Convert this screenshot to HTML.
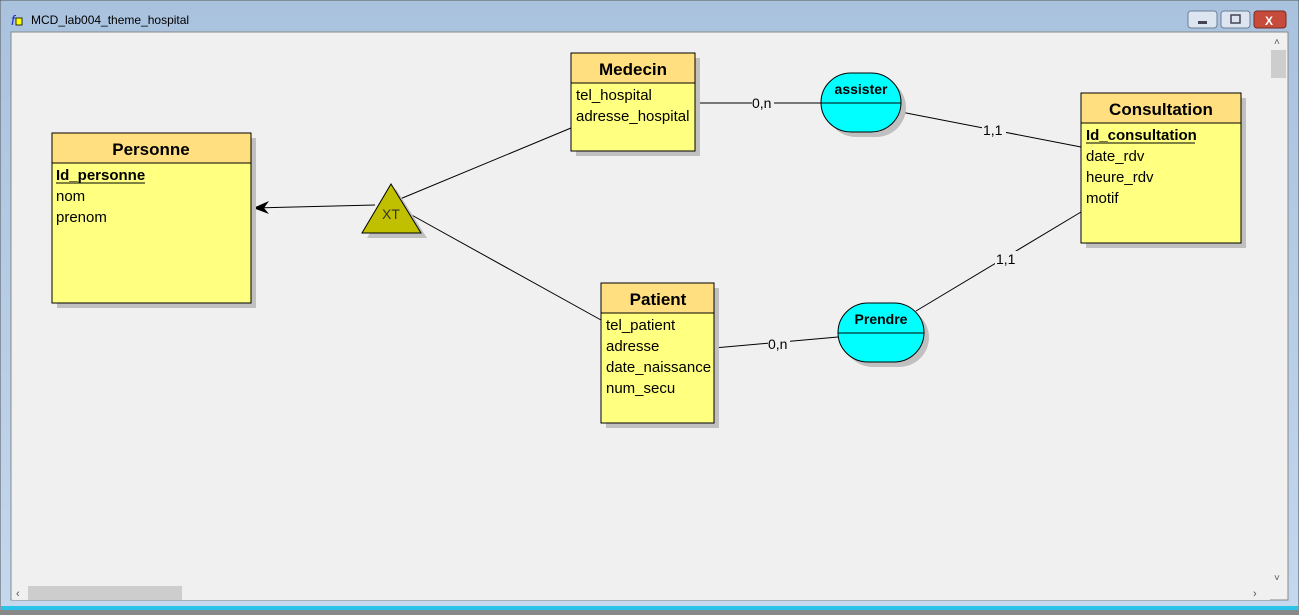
<!DOCTYPE html>
<html><head><style>
body{margin:0;width:1299px;height:615px;overflow:hidden;background:#b9d1ea;font-family:"Liberation Sans",sans-serif}
</style></head><body>
<svg width="1299" height="615" xmlns="http://www.w3.org/2000/svg" style="position:absolute;left:0;top:0">
<defs>
<linearGradient id="tb" x1="0" y1="0" x2="0" y2="1"><stop offset="0" stop-color="#a9c2de"/><stop offset="1" stop-color="#c4d8ee"/></linearGradient>
</defs>
<rect x="0" y="0" width="1299" height="615" fill="url(#tb)" stroke="#555" />
<rect x="0" y="610" width="1299" height="5" fill="#888"/>
<rect x="1" y="606" width="1297" height="4" fill="#2bc4e8"/>
<text x="31" y="24" font-size="12" fill="#000">MCD_lab004_theme_hospital</text>
<text x="11" y="25" font-size="14" fill="#2030c0" font-style="italic">f</text><rect x="16" y="18" width="6" height="7" fill="#ff0" stroke="#000" stroke-width="0.8"/>
<rect x="1188" y="11" width="29" height="17" rx="3" fill="#dde6f0" stroke="#6b7f99"/>
<rect x="1221" y="11" width="29" height="17" rx="3" fill="#dde6f0" stroke="#6b7f99"/>
<rect x="1254" y="11" width="32" height="17" rx="3" fill="#c74b3a" stroke="#7a2a20"/>
<rect x="1198" y="21" width="9" height="3" fill="#445"/>
<rect x="1231" y="15" width="9" height="8" fill="none" stroke="#445" stroke-width="1.5"/>
<text x="1265" y="25" font-size="12" font-weight="bold" fill="#fff">X</text>
<rect x="11" y="32" width="1277" height="568" fill="#f0f0f0" stroke="#888"/>
<rect x="1270" y="33" width="17" height="552" fill="#f0f0f0"/>
<rect x="1271" y="50" width="15" height="28" fill="#cdcdcd"/>
<rect x="12" y="585" width="1258" height="15" fill="#f0f0f0"/>
<rect x="28" y="586" width="154" height="14" fill="#cdcdcd"/>
<text x="1274" y="45" font-size="10" fill="#555">˄</text>
<text x="1274" y="581" font-size="10" fill="#555">˅</text>
<text x="16" y="597" font-size="11" fill="#555">‹</text>
<text x="1253" y="597" font-size="11" fill="#555">›</text>

<g stroke="#000" stroke-width="1" fill="none">
<line x1="253" y1="208" x2="375" y2="205"/>
<line x1="400" y1="199" x2="571" y2="128"/>
<line x1="408" y1="213" x2="601" y2="320"/>
<line x1="695" y1="103" x2="821" y2="103"/>
<line x1="901" y1="112" x2="1081" y2="147"/>
<line x1="714" y1="348" x2="838" y2="337"/>
<line x1="916" y1="311" x2="1081" y2="212"/>
</g>
<polygon points="253,208 269,201 264,208 269,214" fill="#000"/>

<g font-size="14" fill="#000">
<rect x="752" y="95" width="22" height="14" fill="#f0f0f0"/><text x="752" y="108">0,n</text>
<rect x="982" y="122" width="24" height="14" fill="#f0f0f0"/><text x="983" y="135">1,1</text>
<rect x="995" y="251" width="24" height="14" fill="#f0f0f0"/><text x="996" y="264">1,1</text>
<rect x="768" y="336" width="22" height="14" fill="#f0f0f0"/><text x="768" y="349">0,n</text>
</g>

<!-- triangle -->
<polygon points="396,189 427,238 367,238" fill="#c0c0c0"/>
<polygon points="391,184 421,233 362,233" fill="#c0c000" stroke="#000"/>
<text x="382" y="219" font-size="14" fill="#333">XT</text>

<!-- ellipses -->
<rect x="826" y="78" width="80" height="59" rx="30" fill="#c0c0c0"/>
<rect x="821" y="73" width="80" height="59" rx="30" fill="#00ffff" stroke="#000"/>
<line x1="821" y1="103" x2="901" y2="103" stroke="#000"/>
<text x="861" y="94" font-size="14" font-weight="bold" text-anchor="middle">assister</text>
<rect x="843" y="308" width="86" height="59" rx="30" fill="#c0c0c0"/>
<rect x="838" y="303" width="86" height="59" rx="30" fill="#00ffff" stroke="#000"/>
<line x1="838" y1="333" x2="924" y2="333" stroke="#000"/>
<text x="881" y="324" font-size="14" font-weight="bold" text-anchor="middle">Prendre</text>

<!-- entities -->
<g font-size="15">
<rect x="57" y="138" width="199" height="170" fill="#c0c0c0"/>
<rect x="52" y="133" width="199" height="170" fill="#ffff80" stroke="#000"/>
<rect x="52" y="133" width="199" height="30" fill="#ffdf80" stroke="#000"/>
<text x="151" y="155" font-size="17" font-weight="bold" text-anchor="middle">Personne</text>
<text x="56" y="180" font-weight="bold">Id_personne</text><line x1="56" y1="183" x2="145" y2="183" stroke="#000"/>
<text x="56" y="201">nom</text><text x="56" y="222">prenom</text>

<rect x="576" y="58" width="124" height="98" fill="#c0c0c0"/>
<rect x="571" y="53" width="124" height="98" fill="#ffff80" stroke="#000"/>
<rect x="571" y="53" width="124" height="30" fill="#ffdf80" stroke="#000"/>
<text x="633" y="75" font-size="17" font-weight="bold" text-anchor="middle">Medecin</text>
<text x="576" y="100">tel_hospital</text><text x="576" y="121">adresse_hospital</text>

<rect x="1086" y="98" width="160" height="150" fill="#c0c0c0"/>
<rect x="1081" y="93" width="160" height="150" fill="#ffff80" stroke="#000"/>
<rect x="1081" y="93" width="160" height="30" fill="#ffdf80" stroke="#000"/>
<text x="1161" y="115" font-size="17" font-weight="bold" text-anchor="middle">Consultation</text>
<text x="1086" y="140" font-weight="bold">Id_consultation</text><line x1="1086" y1="143" x2="1195" y2="143" stroke="#000"/>
<text x="1086" y="161">date_rdv</text><text x="1086" y="182">heure_rdv</text><text x="1086" y="203">motif</text>

<rect x="606" y="288" width="113" height="140" fill="#c0c0c0"/>
<rect x="601" y="283" width="113" height="140" fill="#ffff80" stroke="#000"/>
<rect x="601" y="283" width="113" height="30" fill="#ffdf80" stroke="#000"/>
<text x="658" y="305" font-size="17" font-weight="bold" text-anchor="middle">Patient</text>
<text x="606" y="330">tel_patient</text><text x="606" y="351">adresse</text><text x="606" y="372">date_naissance</text><text x="606" y="393">num_secu</text>
</g>
</svg>
</body></html>
